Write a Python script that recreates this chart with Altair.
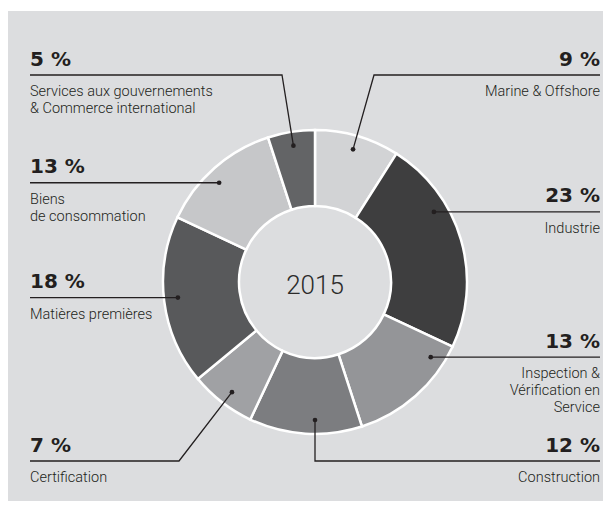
import math
import altair as alt
import pandas as pd

# ---------------- data ----------------
categories = [
    "Marine & Offshore",
    "Industrie",
    "Inspection & Vérification en Service",
    "Construction",
    "Certification",
    "Matières premières",
    "Biens de consommation",
    "Services aux gouvernements & Commerce international",
]
values = [9, 23, 13, 12, 7, 18, 13, 5]
pct_labels = ["9 %", "23 %", "13 %", "12 %", "7 %", "18 %", "13 %", "5 %"]
desc_lines = [
    ["Marine & Offshore"],
    ["Industrie"],
    ["Inspection &", "Vérification en", "Service"],
    ["Construction"],
    ["Certification"],
    ["Matières premières"],
    ["Biens", "de consommation"],
    ["Services aux gouvernements", "& Commerce international"],
]
colors = ["#d2d3d5", "#3e3e3f", "#949598", "#7c7d80",
          "#a0a1a4", "#58595b", "#c6c7c9", "#636466"]
center_label = "2015"

# leader-line anchors (angle clockwise from 12 o'clock)
anchor_deg = [16, 59.5, 123, 180, 217, 263.5, 316, 351]
side = ["right", "right", "right", "right", "left", "left", "left", "left"]
# label rule height / elbow where the leader is not a straight horizontal
line_y = [75, None, None, 461, 461, None, None, 75]
elbow_x = [374, None, None, None, 179, None, None, 282]

# ---------------- layout ----------------
W, H = 595, 490
X0, Y0 = 8, 11          # page position of the plot area
CX, CY = 315, 282       # donut centre (page px)
R_OUT, R_IN, R_DOT = 152, 76, 138
X_LEFT, X_RIGHT = 30, 600
INK = "#231f20"

xs = alt.Scale(domain=[X0, X0 + W], range=[0, W], nice=False, zero=False)
ys = alt.Scale(domain=[Y0, Y0 + H], range=[0, H], nice=False, zero=False)

# ---------------- build tables ----------------
arc_df = pd.DataFrame({"category": categories, "value": values,
                       "idx": list(range(len(values)))})

line_rows, dot_rows, pct_rows, desc_rows = [], [], [], []
for i, cat in enumerate(categories):
    a = math.radians(anchor_deg[i])
    dx = CX + R_DOT * math.sin(a)
    dy = CY - R_DOT * math.cos(a)
    ly = line_y[i] if line_y[i] is not None else dy
    ex = elbow_x[i] if elbow_x[i] is not None else dx
    edge = X_LEFT if side[i] == "left" else X_RIGHT
    pts = [(edge, ly), (ex, ly), (dx, dy)]
    for k, (px, py) in enumerate(pts):
        line_rows.append({"id": cat, "ord": k, "x": px, "y": py})
    dot_rows.append({"id": cat, "x": dx, "y": dy})
    pct_rows.append({"id": cat, "side": side[i], "x": edge, "y": ly - 9.5,
                     "text": pct_labels[i]})
    for j, t in enumerate(desc_lines[i]):
        desc_rows.append({"id": cat, "side": side[i], "x": edge,
                          "y": ly + 21 + 17 * j, "text": t})

lines_df = pd.DataFrame(line_rows)
dots_df = pd.DataFrame(dot_rows)
pct_df = pd.DataFrame(pct_rows)
desc_df = pd.DataFrame(desc_rows)
center_df = pd.DataFrame({"x": [CX], "y": [CY + 11.5], "text": [center_label]})

# ---------------- layers ----------------
donut = alt.Chart(arc_df).mark_arc(
    outerRadius=R_OUT, innerRadius=R_IN, stroke="white", strokeWidth=2.5
).encode(
    theta=alt.Theta("value:Q", stack=True),
    order=alt.Order("idx:Q"),
    color=alt.Color("category:N", scale=alt.Scale(domain=categories, range=colors),
                    legend=None),
    x=alt.value(CX - X0),
    y=alt.value(CY - Y0),
)

X = lambda: alt.X("x:Q", scale=xs, axis=None)
Y = lambda: alt.Y("y:Q", scale=ys, axis=None)

leaders = alt.Chart(lines_df).mark_line(color=INK, strokeWidth=1.3).encode(
    x=X(), y=Y(), detail="id:N", order="ord:Q"
)
dots = alt.Chart(dots_df).mark_circle(color=INK, opacity=1, size=22).encode(
    x=X(), y=Y()
)

def text_layer(df, align, **kw):
    return alt.Chart(df).mark_text(align=align, baseline="alphabetic",
                                   color=INK, **kw).encode(
        x=X(), y=Y(), text="text:N")

pct_left = text_layer(pct_df[pct_df.side == "left"], "left",
                      font="DejaVu Sans", fontWeight="bold", fontSize=20)
pct_right = text_layer(pct_df[pct_df.side == "right"], "right",
                       font="DejaVu Sans", fontWeight="bold", fontSize=20)
desc_left = text_layer(desc_df[desc_df.side == "left"], "left",
                       font="Roboto", fontWeight=300, fontSize=14.5)
desc_right = text_layer(desc_df[desc_df.side == "right"], "right",
                        font="Roboto", fontWeight=300, fontSize=14.5)
center = alt.Chart(center_df).mark_text(
    align="center", baseline="alphabetic", font="Roboto", fontWeight=300,
    fontSize=26, color="#2b2b2b"
).encode(x=X(), y=Y(), text="text:N")

chart = alt.layer(
    donut, leaders, dots, pct_left, pct_right, desc_left, desc_right, center
).properties(
    width=W, height=H,
    autosize=alt.AutoSizeParams(type="none"),
    padding={"left": 0, "top": 3, "right": 0, "bottom": 0},
    background="white",
).configure_view(stroke=None, fill="#dcdddf")

chart.save("out.html", embed_options={"renderer": "svg", "actions": False})
